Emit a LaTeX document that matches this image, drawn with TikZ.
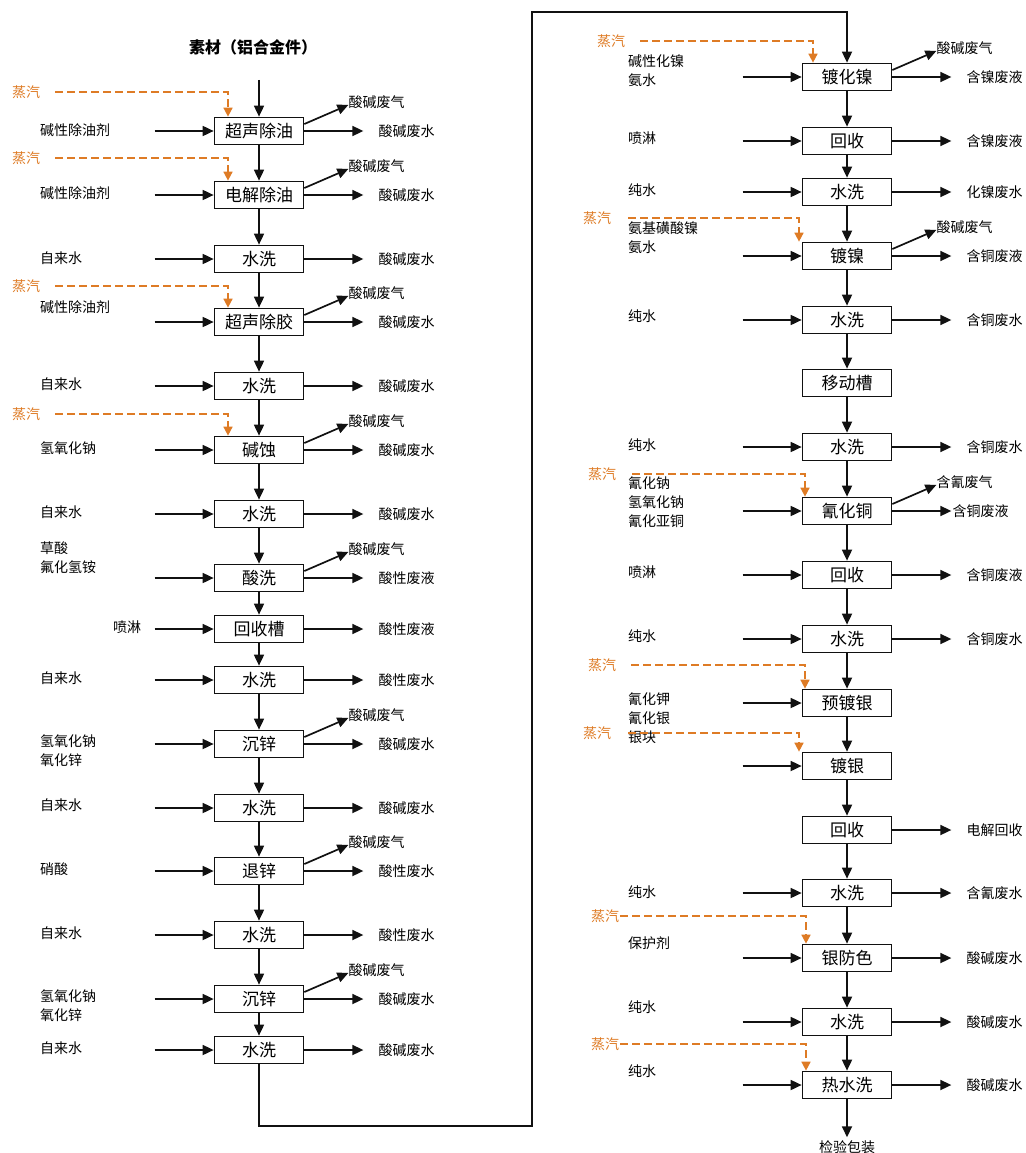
\documentclass[tikz,border=0pt]{standalone}
\usepackage{fontspec}
\setmainfont{Noto Sans CJK SC}
\usepackage{tikz}
\usetikzlibrary{
  arrows.meta,
  positioning
}
\definecolor{pcSteam}{HTML}{DE7B25}
\definecolor{pcLine}{HTML}{111111}
\tikzset{
  stepbox/.style={
    draw=pcLine, line width=1.7pt, minimum width=89pt, minimum height=27pt,
    inner sep=0pt, font=\fontsize{17}{20}\selectfont
  },
  inlabel/.style={anchor=west, inner sep=0pt, align=left, font=\fontsize{14}{19}\selectfont},
  outlabel/.style={inner sep=0pt, font=\fontsize{14}{19}\selectfont},
  steamlabel/.style={anchor=west, inner sep=0pt, text=pcSteam, font=\fontsize{14}{19}\selectfont},
  flow/.style={-{Triangle[length=11pt, width=10pt]}, line width=1.7pt, pcLine},
  drain/.style={flow, shorten >=15pt},
  steam/.style={-{Triangle[length=9pt, width=9pt]}, line width=1.6pt, pcSteam, dash pattern=on 8pt off 4pt}
}
\begin{document}
\begin{tikzpicture}[x=1pt, y=-1pt, node distance=59pt]
  \useasboundingbox (0,0) rectangle (1025,1153);
  % left column
  \node[font=\bfseries\fontsize{16}{19}\selectfont] (raw) at (253,47) {素材（铝合金件）};
  \coordinate (rawin) at (259,80);

  \node[stepbox] (L1) at (259,131) {超声除油};
  \node[inlabel] (L1in) at (40,130) {碱性除油剂};
  \coordinate[left=of L1] (L1src); \draw[flow] (L1src) -- (L1);
  \node[outlabel, right=74pt of L1] (L1out) {酸碱废水}; \draw[drain] (L1) -- (L1out);
  \node[outlabel, above right=8pt and 44pt of L1] (L1gas) {酸碱废气};
  \draw[flow] ([yshift=7pt]L1.east) -- ([yshift=-3pt]L1gas.west);
  \node[steamlabel] (L1st) at (12,92) {蒸汽};
  \draw[steam] ([xshift=15pt]L1st.east) -| ([xshift=-31pt]L1.north);

  \node[stepbox] (L2) at (259,195) {电解除油};
  \node[inlabel] (L2in) at (40,193) {碱性除油剂};
  \coordinate[left=of L2] (L2src); \draw[flow] (L2src) -- (L2);
  \node[outlabel, right=74pt of L2] (L2out) {酸碱废水}; \draw[drain] (L2) -- (L2out);
  \node[outlabel, above right=8pt and 44pt of L2] (L2gas) {酸碱废气};
  \draw[flow] ([yshift=7pt]L2.east) -- ([yshift=-3pt]L2gas.west);
  \node[steamlabel] (L2st) at (12,158) {蒸汽};
  \draw[steam] ([xshift=15pt]L2st.east) -| ([xshift=-31pt]L2.north);

  \node[stepbox] (L3) at (259,259) {水洗};
  \node[inlabel] (L3in) at (40,258) {自来水};
  \coordinate[left=of L3] (L3src); \draw[flow] (L3src) -- (L3);
  \node[outlabel, right=74pt of L3] (L3out) {酸碱废水}; \draw[drain] (L3) -- (L3out);

  \node[stepbox] (L4) at (259,322) {超声除胶};
  \node[inlabel] (L4in) at (40,307) {碱性除油剂};
  \coordinate[left=of L4] (L4src); \draw[flow] (L4src) -- (L4);
  \node[outlabel, right=74pt of L4] (L4out) {酸碱废水}; \draw[drain] (L4) -- (L4out);
  \node[outlabel, above right=8pt and 44pt of L4] (L4gas) {酸碱废气};
  \draw[flow] ([yshift=7pt]L4.east) -- ([yshift=-3pt]L4gas.west);
  \node[steamlabel] (L4st) at (12,286) {蒸汽};
  \draw[steam] ([xshift=15pt]L4st.east) -| ([xshift=-31pt]L4.north);

  \node[stepbox] (L5) at (259,386) {水洗};
  \node[inlabel] (L5in) at (40,384) {自来水};
  \coordinate[left=of L5] (L5src); \draw[flow] (L5src) -- (L5);
  \node[outlabel, right=74pt of L5] (L5out) {酸碱废水}; \draw[drain] (L5) -- (L5out);

  \node[stepbox] (L6) at (259,450) {碱蚀};
  \node[inlabel] (L6in) at (40,448) {氢氧化钠};
  \coordinate[left=of L6] (L6src); \draw[flow] (L6src) -- (L6);
  \node[outlabel, right=74pt of L6] (L6out) {酸碱废水}; \draw[drain] (L6) -- (L6out);
  \node[outlabel, above right=8pt and 44pt of L6] (L6gas) {酸碱废气};
  \draw[flow] ([yshift=7pt]L6.east) -- ([yshift=-3pt]L6gas.west);
  \node[steamlabel] (L6st) at (12,414) {蒸汽};
  \draw[steam] ([xshift=15pt]L6st.east) -| ([xshift=-31pt]L6.north);

  \node[stepbox] (L7) at (259,514) {水洗};
  \node[inlabel] (L7in) at (40,512) {自来水};
  \coordinate[left=of L7] (L7src); \draw[flow] (L7src) -- (L7);
  \node[outlabel, right=74pt of L7] (L7out) {酸碱废水}; \draw[drain] (L7) -- (L7out);

  \node[stepbox] (L8) at (259,578) {酸洗};
  \node[inlabel] (L8in) at (40,558) {草酸\\氟化氢铵};
  \coordinate[left=of L8] (L8src); \draw[flow] (L8src) -- (L8);
  \node[outlabel, right=74pt of L8] (L8out) {酸性废液}; \draw[drain] (L8) -- (L8out);
  \node[outlabel, above right=8pt and 44pt of L8] (L8gas) {酸碱废气};
  \draw[flow] ([yshift=7pt]L8.east) -- ([yshift=-3pt]L8gas.west);

  \node[stepbox] (L9) at (259,629) {回收槽};
  \node[inlabel] (L9in) at (113,627) {喷淋};
  \coordinate[left=of L9] (L9src); \draw[flow] (L9src) -- (L9);
  \node[outlabel, right=74pt of L9] (L9out) {酸性废液}; \draw[drain] (L9) -- (L9out);

  \node[stepbox] (L10) at (259,680) {水洗};
  \node[inlabel] (L10in) at (40,678) {自来水};
  \coordinate[left=of L10] (L10src); \draw[flow] (L10src) -- (L10);
  \node[outlabel, right=74pt of L10] (L10out) {酸性废水}; \draw[drain] (L10) -- (L10out);

  \node[stepbox] (L11) at (259,744) {沉锌};
  \node[inlabel] (L11in) at (40,751) {氢氧化钠\\氧化锌};
  \coordinate[left=of L11] (L11src); \draw[flow] (L11src) -- (L11);
  \node[outlabel, right=74pt of L11] (L11out) {酸碱废水}; \draw[drain] (L11) -- (L11out);
  \node[outlabel, above right=8pt and 44pt of L11] (L11gas) {酸碱废气};
  \draw[flow] ([yshift=7pt]L11.east) -- ([yshift=-3pt]L11gas.west);

  \node[stepbox] (L12) at (259,808) {水洗};
  \node[inlabel] (L12in) at (40,805) {自来水};
  \coordinate[left=of L12] (L12src); \draw[flow] (L12src) -- (L12);
  \node[outlabel, right=74pt of L12] (L12out) {酸碱废水}; \draw[drain] (L12) -- (L12out);

  \node[stepbox] (L13) at (259,871) {退锌};
  \node[inlabel] (L13in) at (40,869) {硝酸};
  \coordinate[left=of L13] (L13src); \draw[flow] (L13src) -- (L13);
  \node[outlabel, right=74pt of L13] (L13out) {酸性废水}; \draw[drain] (L13) -- (L13out);
  \node[outlabel, above right=8pt and 44pt of L13] (L13gas) {酸碱废气};
  \draw[flow] ([yshift=7pt]L13.east) -- ([yshift=-3pt]L13gas.west);

  \node[stepbox] (L14) at (259,935) {水洗};
  \node[inlabel] (L14in) at (40,933) {自来水};
  \coordinate[left=of L14] (L14src); \draw[flow] (L14src) -- (L14);
  \node[outlabel, right=74pt of L14] (L14out) {酸性废水}; \draw[drain] (L14) -- (L14out);

  \node[stepbox] (L15) at (259,999) {沉锌};
  \node[inlabel] (L15in) at (40,1006) {氢氧化钠\\氧化锌};
  \coordinate[left=of L15] (L15src); \draw[flow] (L15src) -- (L15);
  \node[outlabel, right=74pt of L15] (L15out) {酸碱废水}; \draw[drain] (L15) -- (L15out);
  \node[outlabel, above right=8pt and 44pt of L15] (L15gas) {酸碱废气};
  \draw[flow] ([yshift=7pt]L15.east) -- ([yshift=-3pt]L15gas.west);

  \node[stepbox] (L16) at (259,1050) {水洗};
  \node[inlabel] (L16in) at (40,1048) {自来水};
  \coordinate[left=of L16] (L16src); \draw[flow] (L16src) -- (L16);
  \node[outlabel, right=74pt of L16] (L16out) {酸碱废水}; \draw[drain] (L16) -- (L16out);

  \draw[flow] (rawin) -- (L1);
  \draw[flow] (L1) -- (L2); \draw[flow] (L2) -- (L3); \draw[flow] (L3) -- (L4);
  \draw[flow] (L4) -- (L5); \draw[flow] (L5) -- (L6); \draw[flow] (L6) -- (L7);
  \draw[flow] (L7) -- (L8); \draw[flow] (L8) -- (L9); \draw[flow] (L9) -- (L10);
  \draw[flow] (L10) -- (L11); \draw[flow] (L11) -- (L12); \draw[flow] (L12) -- (L13);
  \draw[flow] (L13) -- (L14); \draw[flow] (L14) -- (L15); \draw[flow] (L15) -- (L16);

  % right column
  \node[stepbox] (R1) at (847,77) {镀化镍};
  \node[inlabel] (R1in) at (628,71) {碱性化镍\\氨水};
  \coordinate[left=of R1] (R1src); \draw[flow] (R1src) -- (R1);
  \node[outlabel, right=74pt of R1] (R1out) {含镍废液}; \draw[drain] (R1) -- (R1out);
  \node[outlabel, above right=8pt and 44pt of R1] (R1gas) {酸碱废气};
  \draw[flow] ([yshift=7pt]R1.east) -- ([yshift=-3pt]R1gas.west);
  \node[steamlabel] (R1st) at (597,41) {蒸汽};
  \draw[steam] ([xshift=15pt]R1st.east) -| ([xshift=-34pt]R1.north);

  \node[stepbox] (R2) at (847,141) {回收};
  \node[inlabel] (R2in) at (628,138) {喷淋};
  \coordinate[left=of R2] (R2src); \draw[flow] (R2src) -- (R2);
  \node[outlabel, right=74pt of R2] (R2out) {含镍废液}; \draw[drain] (R2) -- (R2out);

  \node[stepbox] (R3) at (847,192) {水洗};
  \node[inlabel] (R3in) at (628,190) {纯水};
  \coordinate[left=of R3] (R3src); \draw[flow] (R3src) -- (R3);
  \node[outlabel, right=74pt of R3] (R3out) {化镍废水}; \draw[drain] (R3) -- (R3out);

  \node[stepbox] (R4) at (847,256) {镀镍};
  \node[inlabel] (R4in) at (628,238) {氨基磺酸镍\\氨水};
  \coordinate[left=of R4] (R4src); \draw[flow] (R4src) -- (R4);
  \node[outlabel, right=74pt of R4] (R4out) {含铜废液}; \draw[drain] (R4) -- (R4out);
  \node[outlabel, above right=8pt and 44pt of R4] (R4gas) {酸碱废气};
  \draw[flow] ([yshift=7pt]R4.east) -- ([yshift=-3pt]R4gas.west);
  \node[steamlabel] (R4st) at (583,218) {蒸汽};
  \draw[steam] ([xshift=17pt]R4st.east) -| ([xshift=-48pt]R4.north);

  \node[stepbox] (R5) at (847,320) {水洗};
  \node[inlabel] (R5in) at (628,316) {纯水};
  \coordinate[left=of R5] (R5src); \draw[flow] (R5src) -- (R5);
  \node[outlabel, right=74pt of R5] (R5out) {含铜废水}; \draw[drain] (R5) -- (R5out);

  \node[stepbox] (R6) at (847,383) {移动槽};

  \node[stepbox] (R7) at (847,447) {水洗};
  \node[inlabel] (R7in) at (628,445) {纯水};
  \coordinate[left=of R7] (R7src); \draw[flow] (R7src) -- (R7);
  \node[outlabel, right=74pt of R7] (R7out) {含铜废水}; \draw[drain] (R7) -- (R7out);

  \node[stepbox] (R8) at (847,511) {氰化铜};
  \node[inlabel] (R8in) at (628,502) {氰化钠\\氢氧化钠\\氰化亚铜};
  \coordinate[left=of R8] (R8src); \draw[flow] (R8src) -- (R8);
  \node[outlabel, right=60pt of R8] (R8out) {含铜废液}; \draw[flow, shorten >=1pt] (R8) -- (R8out);
  \node[outlabel, above right=8pt and 44pt of R8] (R8gas) {含氰废气};
  \draw[flow] ([yshift=7pt]R8.east) -- ([yshift=-3pt]R8gas.west);
  \node[steamlabel] (R8st) at (588,474) {蒸汽};
  \draw[steam] ([xshift=16pt]R8st.east) -| ([xshift=-42pt]R8.north);

  \node[stepbox] (R9) at (847,575) {回收};
  \node[inlabel] (R9in) at (628,572) {喷淋};
  \coordinate[left=of R9] (R9src); \draw[flow] (R9src) -- (R9);
  \node[outlabel, right=74pt of R9] (R9out) {含铜废液}; \draw[drain] (R9) -- (R9out);

  \node[stepbox] (R10) at (847,639) {水洗};
  \node[inlabel] (R10in) at (628,636) {纯水};
  \coordinate[left=of R10] (R10src); \draw[flow] (R10src) -- (R10);
  \node[outlabel, right=74pt of R10] (R10out) {含铜废水}; \draw[drain] (R10) -- (R10out);

  \node[stepbox] (R11) at (847,703) {预镀银};
  \node[inlabel] (R11in) at (628,718) {氰化钾\\氰化银\\银块};
  \coordinate[left=of R11] (R11src); \draw[flow] (R11src) -- (R11);
  \node[steamlabel] (R11st) at (588,665) {蒸汽};
  \draw[steam] ([xshift=15pt]R11st.east) -| ([xshift=-42pt]R11.north);

  \node[stepbox] (R12) at (847,766) {镀银};
  \coordinate[left=of R12] (R12src); \draw[flow] (R12src) -- (R12);
  \node[steamlabel] (R12st) at (583,733) {蒸汽};
  \draw[steam] ([xshift=17pt]R12st.east) -| ([xshift=-48pt]R12.north);

  \node[stepbox] (R13) at (847,830) {回收};
  \node[outlabel, right=74pt of R13] (R13out) {电解回收}; \draw[drain] (R13) -- (R13out);

  \node[stepbox] (R14) at (847,893) {水洗};
  \node[inlabel] (R14in) at (628,892) {纯水};
  \coordinate[left=of R14] (R14src); \draw[flow] (R14src) -- (R14);
  \node[outlabel, right=74pt of R14] (R14out) {含氰废水}; \draw[drain] (R14) -- (R14out);

  \node[stepbox] (R15) at (847,958) {银防色};
  \node[inlabel] (R15in) at (628,943) {保护剂};
  \coordinate[left=of R15] (R15src); \draw[flow] (R15src) -- (R15);
  \node[outlabel, right=74pt of R15] (R15out) {酸碱废水}; \draw[drain] (R15) -- (R15out);
  \node[steamlabel] (R15st) at (591,916) {蒸汽};
  \draw[steam] ([xshift=1pt]R15st.east) -| ([xshift=-41pt]R15.north);

  \node[stepbox] (R16) at (847,1022) {水洗};
  \node[inlabel] (R16in) at (628,1007) {纯水};
  \coordinate[left=of R16] (R16src); \draw[flow] (R16src) -- (R16);
  \node[outlabel, right=74pt of R16] (R16out) {酸碱废水}; \draw[drain] (R16) -- (R16out);

  \node[stepbox] (R17) at (847,1085) {热水洗};
  \node[inlabel] (R17in) at (628,1071) {纯水};
  \coordinate[left=of R17] (R17src); \draw[flow] (R17src) -- (R17);
  \node[outlabel, right=74pt of R17] (R17out) {酸碱废水}; \draw[drain] (R17) -- (R17out);
  \node[steamlabel] (R17st) at (591,1044) {蒸汽};
  \draw[steam] ([xshift=1pt]R17st.east) -| ([xshift=-41pt]R17.north);

  \node[outlabel] (pack) at (847,1147) {检验包装};

  \draw[flow] (R1) -- (R2); \draw[flow] (R2) -- (R3); \draw[flow] (R3) -- (R4);
  \draw[flow] (R4) -- (R5); \draw[flow] (R5) -- (R6); \draw[flow] (R6) -- (R7);
  \draw[flow] (R7) -- (R8); \draw[flow] (R8) -- (R9); \draw[flow] (R9) -- (R10);
  \draw[flow] (R10) -- (R11); \draw[flow] (R11) -- (R12); \draw[flow] (R12) -- (R13);
  \draw[flow] (R13) -- (R14); \draw[flow] (R14) -- (R15); \draw[flow] (R15) -- (R16);
  \draw[flow] (R16) -- (R17); \draw[flow, shorten >=3pt] (R17) -- (pack);

  % link between the columns
  \coordinate (turnlow) at (532,1126);
  \coordinate (turnhigh) at (532,12);
  \draw[flow] (L16) |- (turnlow) -- (turnhigh) -| (R1);
\end{tikzpicture}
\end{document}
